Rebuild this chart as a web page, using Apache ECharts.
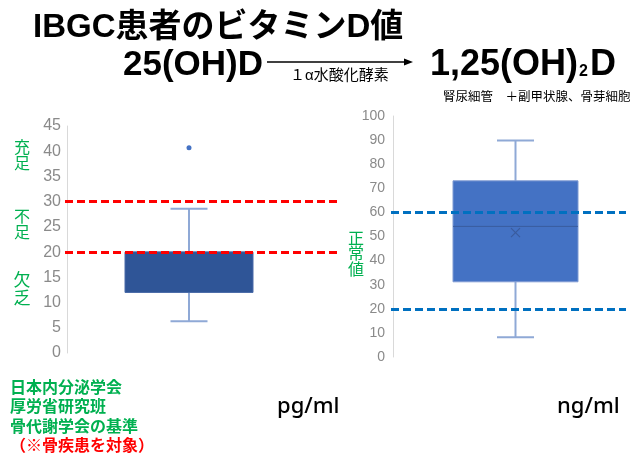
<!DOCTYPE html>
<html>
<head>
<meta charset="utf-8">
<script src="https://cdn.jsdelivr.net/npm/echarts@6/dist/echarts.min.js"></script>
<style>
  html, body { margin: 0; padding: 0; background: #ffffff; }
  #chart { width: 635px; height: 457px; }
</style>
</head>
<body>
<div id="chart"></div>
<script>
// ---- data ----
// 25(OH)D panel: five-number summary [min, Q1, median, Q3, max]
const catsLeft = ['25(OH)D'];
const boxLeft = [6.3, 12, 20, 20, 28.6];
const outliersLeft = [40.7];
const cutoffsLeft = [20, 30];            // 欠乏 / 不足 / 充足 boundaries
const axisLeft = { min: 0, max: 45, interval: 5 };

// 1,25(OH)2D panel
const catsRight = ['1,25(OH)2D'];
const boxRight = [8.2, 31.2, 54.2, 73.1, 89.8];
const meanRight = 51.6;
const normalRight = [20, 60];            // 正常値 range
const axisRight = { min: 0, max: 100, interval: 10 };

// ---- drawing ----
const chart = echarts.init(document.getElementById('chart'), null, { renderer: 'canvas' });

const JP = '"Liberation Sans", "Noto Sans CJK JP", sans-serif';
const GREEN = '#00B050';

// Box-and-whisker drawn with the axes' own coordinate mapping
function makeBoxRenderer(style) {
  return function (params, api) {
    const cat = api.value(0);
    const cx = api.coord([cat, 0])[0];
    const y = (i) => api.coord([cat, api.value(i)])[1];
    const yMin = y(1), yQ1 = y(2), yMed = y(3), yQ3 = y(4), yMax = y(5);
    const bw = style.boxWidth, cw = style.capWidth;
    const whisker = { stroke: style.whisker, lineWidth: 2 };
    const children = [
      { type: 'line', shape: { x1: cx, y1: yQ3, x2: cx, y2: yMax }, style: whisker },
      { type: 'line', shape: { x1: cx - cw / 2, y1: yMax, x2: cx + cw / 2, y2: yMax }, style: whisker },
      { type: 'line', shape: { x1: cx, y1: yQ1, x2: cx, y2: yMin }, style: whisker },
      { type: 'line', shape: { x1: cx - cw / 2, y1: yMin, x2: cx + cw / 2, y2: yMin }, style: whisker },
      { type: 'rect', shape: { x: cx - bw / 2, y: yQ3, width: bw, height: yQ1 - yQ3 },
        style: { fill: style.fill, stroke: style.border, lineWidth: 1 } },
      { type: 'line', shape: { x1: cx - bw / 2, y1: yMed, x2: cx + bw / 2, y2: yMed },
        style: { stroke: style.median, lineWidth: 1 } }
    ];
    if (style.mean != null) {
      const ym = api.coord([cat, style.mean])[1];
      const s = 4.5;
      children.push(
        { type: 'line', shape: { x1: cx - s, y1: ym - s, x2: cx + s, y2: ym + s }, style: { stroke: style.median, lineWidth: 1.2 } },
        { type: 'line', shape: { x1: cx - s, y1: ym + s, x2: cx + s, y2: ym - s }, style: { stroke: style.median, lineWidth: 1.2 } }
      );
    }
    return { type: 'group', children: children };
  };
}

function valueAxis(gridIndex, range, fontSize, margin, show) {
  return {
    type: 'value', gridIndex: gridIndex,
    min: range.min, max: range.max, interval: range.interval,
    show: show,
    axisLine: { show: true, lineStyle: { color: '#D9D9D9', width: 1 } },
    axisTick: { show: false },
    splitLine: { show: false },
    axisLabel: { color: '#8A8A8A', fontSize: fontSize, fontFamily: '"Liberation Sans", sans-serif', margin: margin }
  };
}

function textEl(text, x, y, opts) {
  return {
    type: 'text', x: x, y: y, silent: true,
    style: Object.assign({
      text: text, fill: '#000', font: '16px ' + JP,
      align: 'left', verticalAlign: 'middle'
    }, opts || {})
  };
}

const option = {
  animation: false,
  backgroundColor: '#ffffff',
  grid: [
    { left: 67, top: 126, width: 244, height: 227, outerBoundsMode: 'none' },   // 25(OH)D box
    { left: 393, top: 116, width: 245, height: 241, outerBoundsMode: 'none' },  // 1,25(OH)2D box
    { left: 65, top: 126, width: 272, height: 227, outerBoundsMode: 'none' },   // cutoff lines
    { left: 391, top: 116, width: 235, height: 241, outerBoundsMode: 'none' }   // normal range lines
  ],
  xAxis: [
    { type: 'category', gridIndex: 0, data: catsLeft, show: false },
    { type: 'category', gridIndex: 1, data: catsRight, show: false },
    { type: 'value', gridIndex: 2, min: 0, max: 1, show: false },
    { type: 'value', gridIndex: 3, min: 0, max: 1, show: false }
  ],
  yAxis: [
    valueAxis(0, axisLeft, 16, 6, true),
    valueAxis(1, axisRight, 14, 8, true),
    valueAxis(2, axisLeft, 16, 6, false),
    valueAxis(3, axisRight, 14, 8, false)
  ],
  series: [
    {
      type: 'custom', xAxisIndex: 0, yAxisIndex: 0,
      renderItem: makeBoxRenderer({ boxWidth: 128, capWidth: 37, fill: '#2F5597', border: '#4A6BA8',
        whisker: '#8FA9D6', median: '#2F5597', mean: null }),
      encode: { x: 0, y: [1, 2, 3, 4, 5] },
      data: [[0].concat(boxLeft)]
    },
    {
      type: 'scatter', xAxisIndex: 0, yAxisIndex: 0,
      symbol: 'circle', symbolSize: 5,
      itemStyle: { color: '#4472C4', opacity: 1 },
      data: outliersLeft.map(v => [0, v])
    },
    {
      type: 'custom', xAxisIndex: 1, yAxisIndex: 1,
      renderItem: makeBoxRenderer({ boxWidth: 125, capWidth: 37, fill: '#4472C4', border: '#7F9BD3',
        whisker: '#8FA9D6', median: '#3A5C9E', mean: meanRight }),
      encode: { x: 0, y: [1, 2, 3, 4, 5] },
      data: [[0].concat(boxRight)]
    },
    {
      type: 'line', xAxisIndex: 2, yAxisIndex: 2, data: [], z: 5,
      markLine: {
        silent: true, symbol: 'none', label: { show: false },
        lineStyle: { color: '#FF0000', width: 3, type: [8, 4] },
        data: cutoffsLeft.map(v => ({ yAxis: v }))
      }
    },
    {
      type: 'line', xAxisIndex: 3, yAxisIndex: 3, data: [], z: 5,
      markLine: {
        silent: true, symbol: 'none', label: { show: false },
        lineStyle: { color: '#0070C0', width: 3, type: [8, 4] },
        data: normalRight.map(v => ({ yAxis: v }))
      }
    }
  ],
  graphic: [
    // headline
    textEl('IBGC患者のビタミンD値', 33, 28, { font: 'bold 33px ' + JP }),
    textEl('25(OH)D', 123, 65, { font: 'bold 35px ' + JP }),
    {
      type: 'text', x: 430, y: 65, silent: true,
      style: {
        text: '{b|1,25(OH)}{s|2}{b|D}', verticalAlign: 'middle', align: 'left',
        rich: {
          b: { font: 'bold 36px ' + JP, fill: '#000' },
          s: { font: 'bold 16px ' + JP, fill: '#000', padding: [14, 2, 0, 1] }
        }
      }
    },
    // conversion arrow
    { type: 'line', silent: true, shape: { x1: 267, y1: 62, x2: 408, y2: 62 }, style: { stroke: '#000', lineWidth: 1.3 } },
    { type: 'polygon', silent: true, shape: { points: [[413, 62], [404, 58.5], [404, 65.5]] }, style: { fill: '#000' } },
    textEl('１α水酸化酵素', 290, 76, { font: '15px ' + JP }),
    textEl('腎尿細管　＋副甲状腺、骨芽細胞', 443, 98, { font: '12.5px ' + JP }),
    // status bands next to the 25(OH)D axis
    textEl('充\n足', 22, 157, { font: '16px ' + JP, fill: GREEN, align: 'center', lineHeight: 16 }),
    textEl('不\n足', 22, 226, { font: '16px ' + JP, fill: GREEN, align: 'center', lineHeight: 16 }),
    textEl('欠\n乏', 22, 290, { font: '17px ' + JP, fill: GREEN, align: 'center', lineHeight: 18 }),
    textEl('正\n常\n値', 356, 255, { font: '16px ' + JP, fill: GREEN, align: 'center', lineHeight: 15.5 }),
    // sources
    textEl('日本内分泌学会', 10, 389, { font: 'bold 16px ' + JP, fill: GREEN }),
    textEl('厚労省研究班', 10, 408, { font: 'bold 16px ' + JP, fill: GREEN }),
    textEl('骨代謝学会の基準', 10, 428, { font: 'bold 16px ' + JP, fill: GREEN }),
    textEl('（※骨疾患を対象）', 10, 447, { font: 'bold 16px ' + JP, fill: '#FF0000' }),
    // units
    textEl('pg/ml', 277, 407, { font: '500 22px "Noto Sans", sans-serif' }),
    textEl('ng/ml', 557, 407, { font: '500 22px "Noto Sans", sans-serif' })
  ]
};

chart.setOption(option);
</script>
</body>
</html>
